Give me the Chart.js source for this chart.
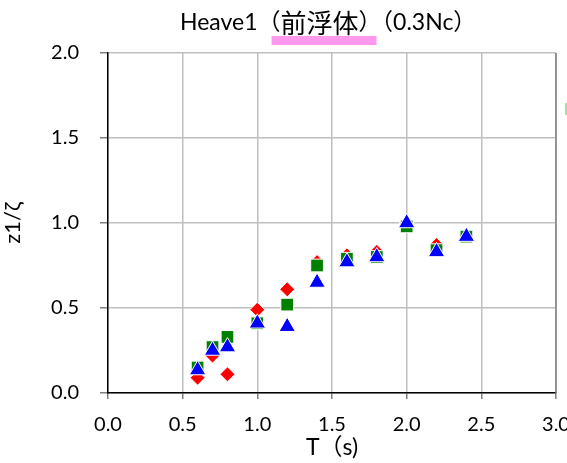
<!DOCTYPE html>
<html><head><meta charset="utf-8">
<script src="https://cdn.jsdelivr.net/npm/chart.js@4/dist/chart.umd.min.js"></script>
<style>html,body{margin:0;padding:0;background:#fff}#wrap{position:relative;width:567px;height:463px}</style>
</head><body><div id="wrap"><canvas id="c" width="567" height="463"></canvas></div>
<script>
const periods = [0.6, 0.7, 0.8, 1.0, 1.2, 1.4, 1.6, 1.8, 2.0, 2.2, 2.4];
const seriesRed = [0.09, 0.22, 0.11, 0.49, 0.61, 0.77, 0.81, 0.83, 1.00, 0.87, 0.93];
const seriesGreen = [0.15, 0.27, 0.33, 0.41, 0.52, 0.75, 0.79, 0.80, 0.98, 0.84, 0.92];
const seriesBlue = [0.135, 0.25, 0.27, 0.41, 0.39, 0.65, 0.77, 0.80, 1.00, 0.83, 0.92];
const xTicks = [0, 0.5, 1.0, 1.5, 2.0, 2.5, 3.0];
const yTicks = [0, 0.5, 1.0, 1.5, 2.0];
const titleParts = ['Heave1（', '前浮体', '）（0.3Nc）'];

const FONT = "Lato, 'Noto Sans CJK JP', sans-serif";
const CJK = "'Noto Sans CJK JP', sans-serif";
const pts = arr => periods.map((t, i) => ({x: t, y: arr[i]}));

const titlePlugin = {
  id: 'titleDraw',
  afterDraw(chart) {
    const ctx = chart.ctx;
    ctx.save();
    ctx.fillStyle = '#000';
    ctx.textBaseline = 'middle';
    const fonts = ["23px " + FONT, "26px " + CJK, "23px " + FONT];
    let x = 180;
    const y = 23;
    let barStart = 0, barEnd = 0;
    titleParts.forEach((s, i) => {
      ctx.font = fonts[i];
      if (i === 1) barStart = x;
      ctx.fillText(s, x, y);
      x += ctx.measureText(s).width;
      if (i === 1) barEnd = x;
    });
    ctx.fillStyle = '#ff99ee';
    ctx.fillRect(barStart - 9, 36, barEnd - barStart + 27, 9);
    // right border of plot
    const a = chart.chartArea;
    ctx.strokeStyle = '#808080';
    ctx.lineWidth = 1.5;
    ctx.beginPath(); ctx.moveTo(a.right, a.top); ctx.lineTo(a.right, a.bottom); ctx.stroke();
    // legend remnant at the right edge
    ctx.strokeStyle = '#a8dca8';
    ctx.lineWidth = 2;
    ctx.beginPath(); ctx.moveTo(566, 103); ctx.lineTo(566, 115); ctx.stroke();
    ctx.restore();
  }
};

new Chart(document.getElementById('c'), {
  type: 'scatter',
  data: {
    datasets: [
      {label: 'red', data: pts(seriesRed), pointStyle: 'rectRot', pointRadius: 7.5, backgroundColor: '#ff0000', borderColor: '#ffffff', borderWidth: 1, order: 3},
      {label: 'green', data: pts(seriesGreen), pointStyle: 'rect', pointRadius: 9, backgroundColor: '#008000', borderColor: '#ffffff', borderWidth: 1, order: 2},
      {label: 'blue', data: pts(seriesBlue), pointStyle: 'triangle', pointRadius: 9.5, backgroundColor: '#0000ff', borderColor: '#ffffff', borderWidth: 1, order: 1}
    ]
  },
  options: {
    responsive: false,
    animation: false,
    devicePixelRatio: 1,
    layout: {padding: {top: 53, right: 11, left: 0, bottom: 2}},
    plugins: {legend: {display: false}, tooltip: {enabled: false}, title: {display: false}},
    scales: {
      x: {
        type: 'linear', min: 0, max: 3,
        afterBuildTicks: s => { s.ticks = xTicks.map(v => ({value: v})); },
        afterFit: s => { s.paddingRight = 0; s.paddingLeft = 0; s.height = 68; },
        ticks: {font: {size: 20, family: FONT}, color: '#000', padding: 14, callback: v => v.toFixed(1), maxRotation: 0},
        grid: {color: '#bfbfbf', lineWidth: 1.5, tickLength: 6, tickColor: '#808080', drawTicks: true},
        border: {color: '#000', width: 1.5},
        title: {display: true, text: 'T（s)', font: {size: 23, family: FONT}, color: '#000', padding: {top: -8, bottom: 0}}
      },
      y: {
        type: 'linear', min: 0, max: 2,
        afterBuildTicks: s => { s.ticks = yTicks.map(v => ({value: v})); },
        afterFit: s => { s.width = 108; s.paddingTop = 0; s.paddingBottom = 0; },
        ticks: {font: {size: 20, family: FONT}, color: '#000', padding: 21, callback: v => v.toFixed(1)},
        grid: {color: '#bfbfbf', lineWidth: 1.5, tickLength: 8, tickColor: '#808080'},
        border: {color: '#000', width: 1.5},
        title: {display: true, text: 'z1/ζ', font: {size: 22, family: FONT}, color: '#000', padding: {top: 0, bottom: 8}}
      }
    }
  },
  plugins: [titlePlugin]
});
</script></body></html>
